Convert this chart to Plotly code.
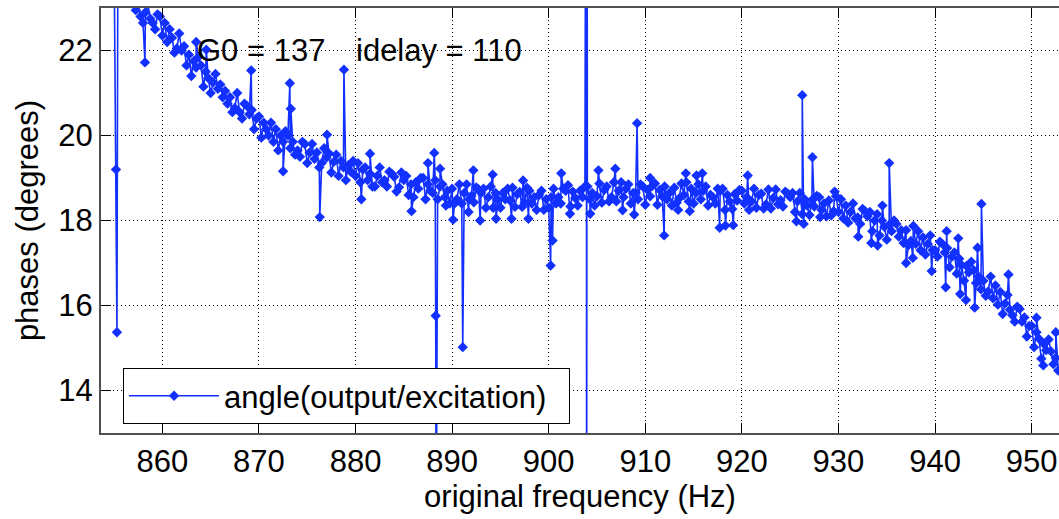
import numpy as np
import plotly.graph_objects as go

# uniform frequency sweep (Hz), 4 samples per Hz
freq_base = np.arange(857.0, 953.0, 0.25)
phase_base = [
    23.25, 22.95, 23.10, 22.80,  # 857
    22.65, 22.90, 23.10, 22.75,  # 858
    22.65, 22.50, 22.85, 22.80,  # 859
    22.35, 22.65, 22.20, 22.50,  # 860
    22.30, 21.95, 22.05, 22.40,  # 861
    22.00, 22.10, 21.65, 21.90,  # 862
    21.40, 21.75, 21.60, 21.85,  # 863
    21.65, 21.15, 21.50, 21.35,  # 864
    21.00, 21.25, 21.45, 21.10,  # 865
    21.20, 20.90, 21.05, 20.75,  # 866
    20.90, 20.55, 20.65, 21.00,  # 867
    20.55, 20.40, 20.75, 20.70,  # 868
    20.50, 20.60, 20.15, 20.40,  # 869
    20.45, 19.95, 20.30, 20.15,  # 870
    20.00, 20.30, 19.85, 20.15,  # 871
    19.65, 20.00, 19.85, 20.10,  # 872
    20.00, 19.70, 19.85, 19.55,  # 873
    19.65, 19.50, 19.85, 19.80,  # 874
    19.35, 19.60, 19.80, 19.45,  # 875
    19.60, 19.25, 19.35, 19.70,  # 876
    19.48, 19.58, 19.13, 19.38,  # 877
    19.55, 19.05, 19.40, 19.25,  # 878
    18.95, 19.30, 19.15, 19.40,  # 879
    19.05, 19.35, 18.90, 19.20,  # 880
    19.25, 18.95, 19.10, 18.80,  # 881
    18.80, 19.05, 19.25, 18.90,  # 882
    18.95, 18.80, 19.15, 19.10,  # 883
    19.03, 18.68, 18.78, 19.13,  # 884
    18.95, 19.05, 18.60, 18.85,  # 885
    18.55, 18.90, 18.75, 19.00,  # 886
    19.00, 18.50, 18.85, 18.70,  # 887
    18.65, 18.95, 18.50, 18.80,  # 888
    18.85, 18.55, 18.70, 18.40,  # 889
    18.75, 18.40, 18.50, 18.85,  # 890
    18.40, 18.65, 18.85, 18.50,  # 891
    18.58, 18.43, 18.78, 18.73,  # 892
    18.65, 18.75, 18.30, 18.55,  # 893
    18.80, 18.30, 18.65, 18.50,  # 894
    18.30, 18.65, 18.50, 18.75,  # 895
    18.47, 18.77, 18.32, 18.62,  # 896
    18.67, 18.32, 18.42, 18.77,  # 897
    18.70, 18.40, 18.55, 18.25,  # 898
    18.60, 18.70, 18.25, 18.50,  # 899
    18.30, 18.55, 18.75, 18.40,  # 900
    18.55, 18.40, 18.75, 18.70,  # 901
    18.83, 18.33, 18.68, 18.53,  # 902
    18.35, 18.70, 18.55, 18.80,  # 903
    18.80, 18.50, 18.65, 18.35,  # 904
    18.57, 18.87, 18.42, 18.72,  # 905
    18.80, 18.45, 18.55, 18.90,  # 906
    18.45, 18.70, 18.90, 18.55,  # 907
    18.75, 18.85, 18.40, 18.65,  # 908
    18.65, 18.50, 18.85, 18.80,  # 909
    18.37, 18.72, 18.57, 18.82,  # 910
    18.87, 18.37, 18.72, 18.57,  # 911
    18.80, 18.50, 18.65, 18.35,  # 912
    18.77, 18.42, 18.52, 18.87,  # 913
    18.60, 18.90, 18.45, 18.75,  # 914
    18.40, 18.65, 18.85, 18.50,  # 915
    18.70, 18.80, 18.35, 18.60,  # 916
    18.55, 18.40, 18.75, 18.70,  # 917
    18.75, 18.25, 18.60, 18.45,  # 918
    18.27, 18.62, 18.47, 18.72,  # 919
    18.70, 18.40, 18.55, 18.25,  # 920
    18.45, 18.75, 18.30, 18.60,  # 921
    18.63, 18.28, 18.38, 18.73,  # 922
    18.28, 18.53, 18.73, 18.38,  # 923
    18.48, 18.33, 18.68, 18.63,  # 924
    18.55, 18.65, 18.20, 18.45,  # 925
    18.65, 18.15, 18.50, 18.35,  # 926
    18.13, 18.48, 18.33, 18.58,  # 927
    18.55, 18.25, 18.40, 18.10,  # 928
    18.47, 18.12, 18.22, 18.57,  # 929
    18.20, 18.50, 18.05, 18.35,  # 930
    17.95, 18.20, 18.40, 18.05,  # 931
    18.07, 17.92, 18.27, 18.22,  # 932
    18.10, 18.20, 17.75, 18.00,  # 933
    18.15, 17.65, 18.00, 17.85,  # 934
    17.55, 17.90, 17.75, 18.00,  # 935
    17.92, 17.62, 17.77, 17.47,  # 936
    17.77, 17.42, 17.52, 17.87,  # 937
    17.45, 17.75, 17.30, 17.60,  # 938
    17.20, 17.45, 17.65, 17.30,  # 939
    17.30, 17.15, 17.50, 17.45,  # 940
    17.25, 17.35, 16.90, 17.15,  # 941
    17.25, 16.75, 17.10, 16.95,  # 942
    16.58, 16.93, 16.78, 17.03,  # 943
    16.83, 16.53, 16.68, 16.38,  # 944
    16.58, 16.23, 16.33, 16.68,  # 945
    16.17, 16.47, 16.02, 16.32,  # 946
    15.80, 16.05, 16.25, 15.90,  # 947
    15.77, 15.62, 15.97, 15.92,  # 948
    15.62, 15.72, 15.27, 15.52,  # 949
    15.52, 15.02, 15.37, 15.22,  # 950
    14.75, 15.10, 14.95, 15.20,  # 951
    14.92, 14.62, 14.77, 14.47,  # 952
]

# outlier samples (Hz, degrees), including off-scale ones
outlier_freq = [855.0, 855.2, 855.3, 855.4, 855.6, 855.9, 856.2, 856.5, 856.8,
                858.2, 863.5, 864.55, 869.2, 872.5, 873.2, 873.3, 876.3, 877.05,
                878.8, 880.6, 881.5, 885.8, 887.5, 888.15, 888.3, 888.35, 888.75,
                889.35, 890.1, 891.1, 891.7, 892.2, 892.9, 894.2, 894.55, 896.15,
                897.35, 897.9, 900.2, 900.4, 901.3, 902.2, 903.9, 903.93, 903.96,
                904.3, 905.15, 906.9, 907.65, 908.85, 909.15, 910.5, 911.95, 913.4,
                914.2, 914.6, 915.3, 915.9, 917.7, 918.3, 919.1, 920.6, 925.65,
                926.25, 926.4, 927.3, 928.1, 929.6, 932.05, 933.4, 934.05, 934.55,
                935.25, 937.0, 937.7, 939.65, 941.1, 941.2, 942.4, 942.6, 943.2,
                944.1, 944.4, 944.8, 947.6, 950.5, 951.2, 952.5]
outlier_phase = [24.5, 19.2, 15.37, 24.5, 23.6, 23.5, 23.5, 23.4, 23.3,
                 21.72, 22.2, 22.02, 21.53, 19.16, 21.23, 20.63, 18.08, 20.02,
                 21.55, 18.5, 19.57, 18.22, 19.35, 19.59, 15.76, 10.0, 19.22,
                 18.35, 18.02, 15.02, 18.2, 19.18, 18.0, 19.08, 18.04, 18.04,
                 18.94, 18.04, 16.94, 17.53, 19.11, 18.16, 35.0, 0.0, 35.0,
                 18.16, 19.18, 19.22, 18.24, 18.14, 20.29, 19.0, 17.65, 18.25,
                 19.11, 18.22, 19.06, 19.11, 17.83, 17.88, 17.89, 19.06, 17.98,
                 20.95, 17.92, 19.49, 18.08, 18.68, 17.62, 17.47, 17.41, 18.35,
                 19.35, 17.0, 17.12, 16.81, 16.43, 17.75, 17.58, 16.27, 16.13,
                 15.95, 17.36, 18.39, 16.73, 15.71, 14.59, 15.37]

x_ticks = [860, 870, 880, 890, 900, 910, 920, 930, 940, 950]
y_ticks = [14, 16, 18, 20, 22]

# merge samples in frequency order
xs = list(freq_base) + outlier_freq
ys = list(phase_base) + outlier_phase
order = np.argsort(xs, kind="stable")
freq = [xs[i] for i in order]
phase = [ys[i] for i in order]

BLUE = "rgb(18,48,255)"
FONT = "Liberation Sans, Arial, Helvetica, sans-serif"
FS = 31

fig = go.Figure()
fig.add_trace(go.Scatter(
    x=freq, y=phase, mode="lines+markers",
    name="angle(output/excitation)\u00a0\u00a0",
    line=dict(color=BLUE, width=1.6),
    marker=dict(color=BLUE, size=8, symbol="diamond"),
))

for tx, txt in [(863.6, "G0 = 137"), (880.0, "idelay = 110")]:
    fig.add_annotation(
        x=tx, y=22, xref="x", yref="y", xanchor="left", yanchor="middle",
        text=txt, showarrow=False, xshift=-2,
        font=dict(family=FONT, size=FS, color="black"),
    )

axis_common = dict(
    showgrid=True, gridcolor="black", gridwidth=1, griddash="1px,3px",
    zeroline=False, ticks="inside", ticklen=10, tickcolor="black",
    tickwidth=1, showline=True, linecolor="rgb(80,80,80)", linewidth=2,
    tickfont=dict(family=FONT, size=FS, color="black"),
)

fig.update_xaxes(
    range=[853.65, 952.83], tickvals=x_ticks, mirror="ticks",
    title=dict(text="original frequency (Hz)", standoff=6,
               font=dict(family=FONT, size=FS, color="black")),
    **axis_common,
)
fig.update_yaxes(
    range=[13, 23], tickvals=y_ticks, mirror=False,
    title=dict(text="phases (degrees)", standoff=10,
               font=dict(family=FONT, size=FS, color="black")),
    **axis_common,
)

fig.update_layout(
    width=1059, height=519,
    margin=dict(l=101, r=0, t=8, b=86),
    plot_bgcolor="white", paper_bgcolor="white",
    showlegend=True,
    legend=dict(
        x=0.023, y=0.021, xanchor="left", yanchor="bottom",
        bgcolor="white", bordercolor="black", borderwidth=1,
        font=dict(family=FONT, size=FS, color="black"),
        itemwidth=90,
    ),
)

fig.write_html("out.html")
